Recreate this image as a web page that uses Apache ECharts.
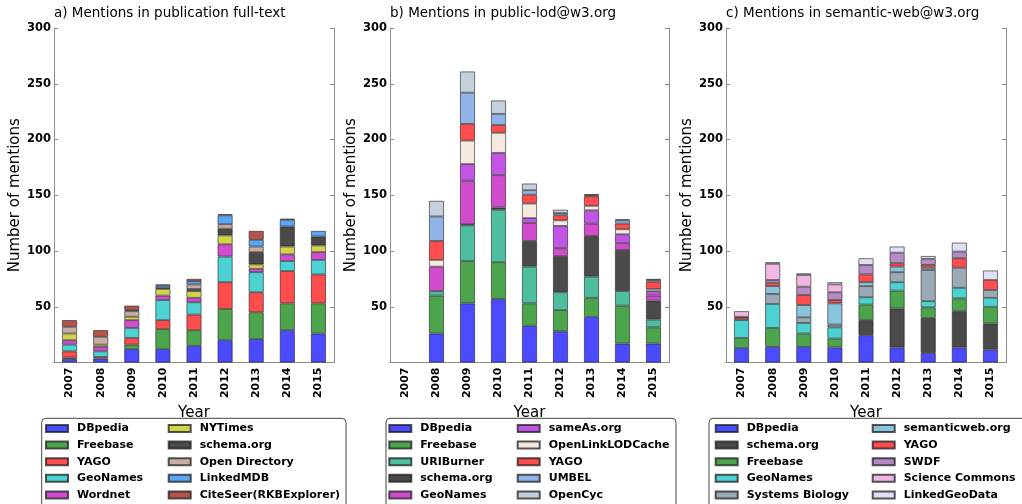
<!DOCTYPE html>
<html>
<head>
<meta charset="utf-8">
<script src="https://cdn.jsdelivr.net/npm/echarts@6/dist/echarts.min.js"></script>
<style>
html,body{margin:0;padding:0;background:#fff;}
#chart{width:1022px;height:504px;}
</style>
</head>
<body>
<div id="chart"></div>
<script>
// ---------- data ----------
const years = ['2007','2008','2009','2010','2011','2012','2013','2014','2015'];
const yTicks = [0, 50, 100, 150, 200, 250, 300];

// a) publication full-text
const pubNames = ['DBpedia','Freebase','YAGO','GeoNames','Wordnet','NYTimes','schema.org','Open Directory','LinkedMDB','CiteSeer(RKBExplorer)'];
const pubDBpedia   = [3, 3.5, 12, 12, 15, 20, 21, 29, 26];
const pubFreebase  = [1.5, 0, 4, 18, 14, 28, 24, 24, 27];
const pubYAGO      = [5.5, 1.5, 6, 8, 14, 24, 18, 29, 26];
const pubGeoNames  = [6, 5, 9, 18, 11, 23, 18, 9, 13];
const pubWordnet   = [4, 4, 7, 4, 4, 11, 3, 6, 7];
const pubNYTimes   = [6, 2, 3, 6, 6, 8, 4, 7, 6];
const pubSchema    = [0, 0, 0, 1, 2, 6, 11, 18, 8];
const pubOpenDir   = [6, 7, 5, 0, 4, 4, 5, 0, 0];
const pubLinkedMDB = [0, 0, 1, 2, 3, 8, 6, 6, 5];
const pubCiteSeer  = [6, 6, 4, 1, 2, 1, 8, 1, 0];

// b) public-lod@w3.org
const lodNames = ['DBpedia','Freebase','URIBurner','schema.org','GeoNames','sameAs.org','OpenLinkLODCache','YAGO','UMBEL','OpenCyc'];
const lodDBpedia   = [0, 26, 53, 57, 33, 28, 41, 17, 17];
const lodFreebase  = [0, 34, 38, 33, 20, 19, 17, 34, 14.5];
const lodURIBurner = [0, 4, 32, 47, 33, 16, 19, 13, 7];
const lodSchema    = [0, 0, 1, 2, 23, 32.5, 36.5, 37, 17];
const lodGeoNames  = [0, 22, 39, 29, 16, 7, 11, 6, 4.5];
const lodSameAs    = [0, 0, 15, 20, 4.5, 20, 12, 8, 4];
const lodOLC       = [0, 6, 21, 18, 13, 5, 4, 4.5, 2];
const lodYAGO      = [0, 17, 15, 7, 8, 4.5, 8.5, 5, 6.5];
const lodUMBEL     = [0, 22, 28, 10, 4, 2, 1, 3, 1.5];
const lodOpenCyc   = [0, 14, 19, 12, 6, 3, 1, 1, 1];

// c) semantic-web@w3.org
const swNames = ['DBpedia','schema.org','Freebase','GeoNames','Systems Biology','semanticweb.org','YAGO','SWDF','Science Commons','LinkedGeoData'];
const swDBpedia   = [13, 14, 14, 13.5, 24.5, 13.5, 8.5, 13.5, 11.5];
const swSchema    = [0, 0, 0, 0, 13.5, 35, 31.5, 32.5, 23.5];
const swFreebase  = [9, 17, 12, 8, 14, 16, 9.5, 11.5, 15];
const swGeoNames  = [16, 21.5, 9.5, 10, 6.5, 7.5, 5.5, 9.5, 8];
const swSysBio    = [0, 9, 5, 2.5, 10, 9, 28, 18, 7];
const swSemweb    = [0, 7, 11, 19, 3.5, 5, 2, 0, 0];
const swYAGO      = [2, 3, 9, 3, 7, 3, 2.5, 8.5, 9];
const swSWDF      = [1, 2.5, 7.5, 7, 8.5, 9.5, 5.5, 6, 0];
const swSciCommons= [5, 14.5, 10.5, 7, 0, 0, 0, 0, 0];
const swLGD       = [0, 1.5, 1.5, 2, 6, 5.5, 2.5, 8, 8.5];

// ---------- styling / layout ----------
const FONT = 'DejaVu Sans';
const panels = [
  { id:'a', title:'a) Mentions in publication full-text', left:54, width:280,
    names:pubNames,
    values:[pubDBpedia,pubFreebase,pubYAGO,pubGeoNames,pubWordnet,pubNYTimes,pubSchema,pubOpenDir,pubLinkedMDB,pubCiteSeer],
    colors:['#4a4aff','#4ca44c','#ff4c4c','#4cd2d2','#d24cd2','#d4d44c','#4a4a4a','#c8ada4','#5aa8f5','#b4544c'],
    leg:{col1:45, col2:167.7, box:[41.7, 304.3]} },
  { id:'b', title:'b) Mentions in public-lod@w3.org', left:390, width:279,
    names:lodNames,
    values:[lodDBpedia,lodFreebase,lodURIBurner,lodSchema,lodGeoNames,lodSameAs,lodOLC,lodYAGO,lodUMBEL,lodOpenCyc],
    colors:['#4a4aff','#4ca44c','#4ebea0','#4a4a4a','#d04ccc','#c254e6','#f6e9e0','#ff4c4c','#90b4e8','#c4d0dc'],
    leg:{col1:388.3, col2:516.7, box:[386, 290]} },
  { id:'c', title:'c) Mentions in semantic-web@w3.org', left:726, width:280,
    names:swNames,
    values:[swDBpedia,swSchema,swFreebase,swGeoNames,swSysBio,swSemweb,swYAGO,swSWDF,swSciCommons,swLGD],
    colors:['#4a4aff','#4a4a4a','#4ca44c','#4cd2d2','#9aaab6','#8ac4dc','#ff4c4c','#b48ac8','#f2b6e2','#e2def6'],
    leg:{col1:714.7, col2:871.7, box:[709, 330]} }
];

const gridTop = 28, gridH = 334.5;
const option = {
  animation:false,
  textStyle:{fontFamily:FONT},
  title:[], grid:[], xAxis:[], yAxis:[], series:[], legend:[], graphic:[]
};

const axisGray = '#8a8a8a';
panels.forEach((p, pi) => {
  option.title.push({ text:p.title, left:p.left, top:6.5, padding:0,
    textStyle:{fontFamily:FONT, fontSize:13.5, fontWeight:'normal', color:'#000'} });
  option.grid.push({ left:p.left, top:gridTop, width:p.width, height:gridH, containLabel:false });
  // bottom category axis
  option.xAxis.push({ type:'category', gridIndex:pi, data:years, position:'bottom',
    name:'Year', nameLocation:'middle', nameGap:29,
    nameTextStyle:{fontFamily:FONT, fontSize:15, color:'#000'},
    axisLine:{lineStyle:{color:axisGray, width:1}},
    axisTick:{inside:true, length:4, alignWithLabel:true, lineStyle:{color:axisGray}},
    axisLabel:{rotate:90, margin:5, fontFamily:FONT, fontSize:11, fontWeight:'bold', color:'#000'} });
  // top axis (ticks only)
  option.xAxis.push({ type:'category', gridIndex:pi, data:years, position:'top',
    axisLine:{lineStyle:{color:axisGray, width:1}},
    axisTick:{inside:true, length:4, alignWithLabel:true, lineStyle:{color:axisGray}},
    axisLabel:{show:false} });
  // left value axis
  option.yAxis.push({ type:'value', gridIndex:pi, min:yTicks[0], max:yTicks[yTicks.length-1], interval:yTicks[1]-yTicks[0],
    position:'left',
    name:'Number of mentions', nameLocation:'middle', nameGap:26,
    nameTextStyle:{fontFamily:FONT, fontSize:15, color:'#000'},
    axisLine:{show:true, lineStyle:{color:axisGray, width:1}},
    axisTick:{show:true, inside:true, length:4, lineStyle:{color:axisGray}},
    splitLine:{show:false},
    axisLabel:{margin:3, fontFamily:FONT, fontSize:11.5, fontWeight:'bold', color:'#000',
      formatter:v => v === 0 ? '' : String(v)} });
  // right value axis (ticks only)
  option.yAxis.push({ type:'value', gridIndex:pi, min:yTicks[0], max:yTicks[yTicks.length-1], interval:yTicks[1]-yTicks[0],
    position:'right',
    axisLine:{show:true, lineStyle:{color:axisGray, width:1}},
    axisTick:{show:true, inside:true, length:4, lineStyle:{color:axisGray}},
    splitLine:{show:false}, axisLabel:{show:false} });

  const legendNames = [];
  p.names.forEach((nm, si) => {
    const sname = p.id + '|' + nm;
    legendNames.push(sname);
    option.series.push({
      type:'bar', name:sname, stack:'stack' + p.id,
      xAxisIndex:pi*2, yAxisIndex:pi*2,
      barWidth:15,
      data:p.values[si].map(v => v === 0 ? '-' : v),
      itemStyle:{color:p.colors[si], borderColor:'rgba(30,30,30,0.75)', borderWidth:0.8},
      emphasis:{disabled:true}
    });
  });
  const legCommon = {
    orient:'vertical', top:421.5, padding:0, itemGap:2.6,
    itemWidth:22, itemHeight:7, icon:'rect',
    formatter: n => n.split('|')[1],
    textStyle:{fontFamily:FONT, fontSize:11, fontWeight:'bold', color:'#000', lineHeight:14, padding:[0,0,0,4]},
    selectedMode:false
  };
  option.legend.push(Object.assign({}, legCommon, { left:p.leg.col1, data:legendNames.slice(0,5) }));
  option.legend.push(Object.assign({}, legCommon, { left:p.leg.col2, data:legendNames.slice(5) }));
  option.graphic.push({ type:'rect', shape:{x:p.leg.box[0], y:418.3, width:p.leg.box[1], height:120, r:4},
    style:{fill:'none', stroke:'#444', lineWidth:1}, silent:true, z:-1 });
});

const chart = echarts.init(document.getElementById('chart'), null, {renderer:'canvas'});
chart.setOption(option);
</script>
</body>
</html>
